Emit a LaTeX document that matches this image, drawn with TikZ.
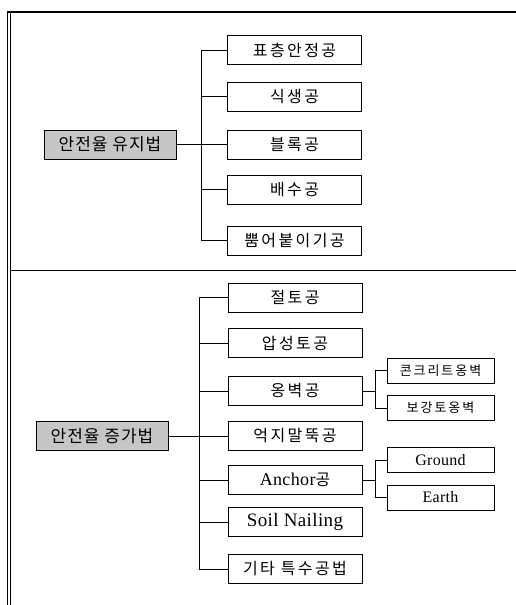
\documentclass[tikz,border=0pt]{standalone}
\usepackage{fontspec}
\setmainfont{Liberation Serif}
\newfontfamily\kr[LetterSpace=15]{Noto Sans CJK KR}
\newfontfamily\krroot[LetterSpace=6]{Noto Sans CJK KR}
\newfontfamily\lat[LetterSpace=2]{Liberation Serif}
\begin{document}
\begin{tikzpicture}[x=1pt,y=-1pt,
  box/.style={draw=black, line width=0.8pt, fill=white, inner sep=0pt, minimum width=134pt, minimum height=29pt, font=\kr\fontsize{16}{18}\selectfont},
  rootbox/.style={draw=black, line width=0.8pt, fill=gray!45, inner sep=0pt, minimum width=132pt, minimum height=29pt, font=\krroot\fontsize{17}{19}\selectfont},
  subbox/.style={draw=black, line width=0.8pt, fill=white, inner sep=0pt, minimum width=107pt, minimum height=25pt, font=\kr\fontsize{13}{15}\selectfont},
  conn/.style={line width=0.8pt}]
\useasboundingbox (0,0) rectangle (516,605);
% frame
\draw[line width=1.2pt] (7,12) -- (516,12);
\draw[line width=1pt] (7,12) -- (7,605);
\draw[line width=1pt] (10,12) -- (10,605);
\draw[line width=0.8pt] (10,270) -- (516,270);
% top group
\coordinate (t1) at (201,0);
\node[rootbox] (ra) at (110,144.5) {안전율 유지법};
\node[box] (a1) at (294.5,50) {표층안정공};
\node[box] (a2) at (294.5,96.5) {식생공};
\node[box] (a3) at (294.5,144.5) {블록공};
\node[box] (a4) at (294.5,189.5) {배수공};
\node[box] (a5) at (294.5,240.5) {뿜어붙이기공};
\draw[conn] (ra.east) -- (ra.east -| t1);
\draw[conn] (a1.west) -- (a1.west -| t1) -- (a5.west -| t1) -- (a5.west);
\draw[conn] (a2.west) -- (a2.west -| t1);
\draw[conn] (a3.west) -- (a3.west -| t1);
\draw[conn] (a4.west) -- (a4.west -| t1);
% bottom group
\coordinate (t2) at (199,0);
\coordinate (t3) at (375,0);
\node[rootbox] (rb) at (102,436) {안전율 증가법};
\node[box] (b1) at (295,297.5) {절토공};
\node[box] (b2) at (295,343) {압성토공};
\node[box] (b3) at (295,391) {옹벽공};
\node[box] (b4) at (295,436) {억지말뚝공};
\node[box] (b5) at (295,480) {{\lat\fontsize{18}{20}\selectfont Anchor}공};
\node[box] (b6) at (295,522) {\lat\fontsize{19}{21}\selectfont Soil Nailing};
\node[box] (b7) at (295,569) {기타 특수공법};
\node[subbox] (s1) at (440.5,370.5) {콘크리트옹벽};
\node[subbox] (s2) at (440.5,408) {보강토옹벽};
\node[subbox] (s3) at (440.5,460) {\lat\fontsize{16}{18}\selectfont Ground};
\node[subbox] (s4) at (440.5,497.5) {\lat\fontsize{16}{18}\selectfont Earth};
\draw[conn] (rb.east) -- (rb.east -| t2);
\draw[conn] (b1.west) -- (b1.west -| t2) -- (b7.west -| t2) -- (b7.west);
\draw[conn] (b2.west) -- (b2.west -| t2);
\draw[conn] (b3.west) -- (b3.west -| t2);
\draw[conn] (b4.west) -- (b4.west -| t2);
\draw[conn] (b5.west) -- (b5.west -| t2);
\draw[conn] (b6.west) -- (b6.west -| t2);
\draw[conn] (b3.east) -- (b3.east -| t3);
\draw[conn] (s1.west) -- (s1.west -| t3) -- (s2.west -| t3) -- (s2.west);
\draw[conn] (b5.east) -- (b5.east -| t3);
\draw[conn] (s3.west) -- (s3.west -| t3) -- (s4.west -| t3) -- (s4.west);
\end{tikzpicture}
\end{document}
